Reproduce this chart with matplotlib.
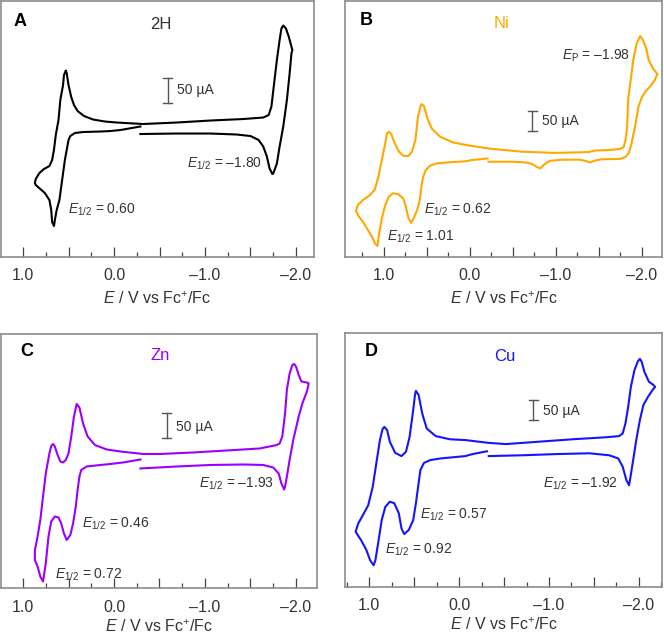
import matplotlib
matplotlib.use('Agg')
import matplotlib.pyplot as plt
from matplotlib.ticker import MultipleLocator, FuncFormatter

plt.rcParams['font.family'] = 'Liberation Sans'
plt.rcParams['mathtext.fontset'] = 'custom'
plt.rcParams['mathtext.rm'] = 'Liberation Sans'
plt.rcParams['mathtext.it'] = 'Liberation Sans:italic'
plt.rcParams['mathtext.bf'] = 'Liberation Sans:bold'

# potential (V vs Fc+/Fc) and current (uA, cathodic up)
# A: free base 2H
e_2h = [-0.29, -0.07, 0.04, 0.15, 0.34, 0.43, 0.48, 0.50, 0.52, 0.54, 0.57, 0.60, 0.63, 0.65, 0.66, 0.68, 0.69, 0.71, 0.76, 0.81, 0.86, 0.87,
        0.86, 0.82, 0.77, 0.71, 0.68, 0.66, 0.64, 0.61, 0.59, 0.56, 0.55, 0.53, 0.52, 0.50, 0.47, 0.44, 0.40, 0.33, 0.23, 0.10, -0.03,
        -0.32, -0.69, -1.06, -1.42, -1.64, -1.70, -1.73, -1.76, -1.79, -1.82, -1.84, -1.86, -1.89, -1.92, -1.95, -1.96,
        -1.95, -1.93, -1.90, -1.86, -1.82, -1.79, -1.75, -1.74, -1.71, -1.68, -1.64, -1.59, -1.50, -1.35, -1.06, -0.69, -0.29]
i_2h = [7, 0, -2, -3, -4, -6, -12, -20, -40, -60, -100, -140, -160, -180, -192, -184, -160, -140, -126, -118, -110, -106,
        -98, -86, -78, -72, -60, -40, -10, 20, 60, 90, 110, 119, 114, 90, 66, 50, 38, 28, 21, 17, 15,
        12, 15, 19, 22, 25, 30, 47, 94, 140, 180, 203, 209, 203, 187, 167, 160,
        153, 113, 60, 7, -33, -67, -87, -88, -77, -53, -33, -20, -12, -9, -7, -7, -8]

# B: Ni
e_ni = [-0.21, -0.02, 0.05, 0.27, 0.38, 0.46, 0.51, 0.54, 0.56, 0.58, 0.61, 0.65, 0.68, 0.71, 0.74, 0.77, 0.83, 0.89, 0.94, 0.98,
        1.02, 1.05, 1.07, 1.10, 1.13, 1.18, 1.24, 1.29, 1.32,
        1.30, 1.24, 1.16, 1.10, 1.06, 1.02, 0.98, 0.96, 0.94, 0.91, 0.87, 0.82, 0.77, 0.71, 0.67, 0.63, 0.60, 0.57, 0.56, 0.53,
        0.49, 0.44, 0.34, 0.19, 0.05, -0.22, -0.61, -0.99, -1.38, -1.46, -1.61, -1.75, -1.79, -1.81, -1.83, -1.84, -1.87, -1.90,
        -1.94, -1.98, -2.01, -2.05, -2.08, -2.13, -2.18,
        -2.15, -2.10, -2.04, -2.00, -1.96, -1.92, -1.88, -1.85, -1.81, -1.75, -1.53, -1.44, -1.40, -1.36, -1.28, -1.07, -0.93,
        -0.87, -0.82, -0.78, -0.73, -0.66, -0.49, -0.22]
i_ni = [4, 0, -3, -6, -8, -14, -25, -42, -67, -100, -125, -146, -157, -146, -117, -96, -85, -83, -92, -113,
        -146, -183, -215, -208, -193, -175, -154, -140, -127,
        -113, -100, -88, -73, -42, 0, 42, 67, 71, 65, 42, 21, 11, 10, 21, 50, 108, 135, 140, 135,
        104, 79, 58, 44, 38, 29, 21, 18, 20, 24, 25, 28, 33, 50, 83, 150, 200, 250,
        292, 310, 302, 279, 250, 229, 215,
        200, 185, 171, 157, 133, 83, 42, 18, 8, 3, 2, -2, -6, -3, 1, 1, -2,
        -10, -21, -17, -10, -6, -4, -4]

# C: Zn
e_zn = [-0.29, -0.10, 0.04, 0.15, 0.30, 0.36, 0.38, 0.40, 0.42, 0.45, 0.48, 0.52, 0.55, 0.58, 0.61, 0.65, 0.69, 0.72, 0.75, 0.78,
        0.81, 0.84, 0.87, 0.87,
        0.84, 0.81, 0.78, 0.75, 0.71, 0.69, 0.67, 0.65, 0.62, 0.59, 0.56, 0.53, 0.50, 0.47, 0.44, 0.41, 0.38, 0.34, 0.29, 0.21,
        0.08, -0.07, -0.32, -0.51, -0.87, -1.24, -1.60, -1.71, -1.79, -1.82, -1.85, -1.88, -1.90, -1.93, -1.96, -1.98, -2.00,
        -2.03, -2.06, -2.12, -2.14,
        -2.12, -2.07, -2.03, -1.97, -1.93, -1.90, -1.88, -1.87, -1.84, -1.81, -1.75, -1.64, -1.42, -1.06, -0.69, -0.29]
i_zn = [1, -5, -8, -10, -13, -20, -33, -60, -93, -127, -150, -160, -147, -127, -115, -113, -123, -153, -207, -243,
        -233, -213, -200, -181,
        -153, -120, -73, -27, 13, 28, 32, 27, 10, -3, -5, 0, 13, 47, 87, 112, 105, 73, 47, 30,
        21, 17, 12, 12, 15, 19, 23, 27, 30, 33, 47, 93, 140, 173, 190, 192, 187,
        170, 157, 155, 153,
        137, 113, 87, 40, 0, -33, -53, -59, -47, -27, -15, -10, -9, -10, -13, -17]

# D: Cu
e_cu = [-0.31, -0.15, -0.07, 0.21, 0.32, 0.39, 0.43, 0.45, 0.48, 0.51, 0.56, 0.61, 0.64, 0.67, 0.72, 0.77, 0.82, 0.86, 0.90, 0.93,
        0.95, 0.99, 1.03, 1.09, 1.14, 1.15,
        1.12, 1.07, 1.01, 0.96, 0.92, 0.88, 0.85, 0.83, 0.80, 0.77, 0.71, 0.64, 0.59, 0.55, 0.51, 0.49, 0.48, 0.45, 0.41, 0.36,
        0.26, 0.10, -0.07, -0.33, -0.52, -0.89, -1.26, -1.63, -1.78, -1.82, -1.85, -1.88, -1.91, -1.95, -1.99, -2.01, -2.03,
        -2.06, -2.11, -2.16, -2.18,
        -2.15, -2.10, -2.05, -2.01, -1.97, -1.93, -1.90, -1.89, -1.86, -1.82, -1.77, -1.67, -1.45, -1.08, -0.70, -0.33]
i_cu = [-3, -10, -15, -21, -25, -32, -50, -83, -133, -175, -200, -210, -196, -158, -133, -129, -142, -175, -233, -275,
        -288, -275, -250, -225, -208, -204,
        -183, -163, -138, -92, -33, 25, 53, 58, 50, 21, -7, -15, -4, 33, 100, 138, 148, 138, 92, 54,
        35, 27, 25, 18, 15, 21, 27, 32, 35, 42, 67, 108, 158, 200, 223, 228, 221,
        196, 171, 163, 158,
        150, 133, 113, 75, 25, -33, -75, -88, -75, -42, -21, -13, -8, -10, -13, -15]

half_wave = {
    'A': [('\u20131.80', -0.805, -68), ('0.60', 0.502, -160)],
    'B': [('0.62', 0.533, -125), ('1.01', 0.959, -192)],
    'C': [('\u20131.93', -0.937, -48), ('0.46', 0.355, -127), ('0.72', 0.648, -230)],
    'D': [('\u20131.92', -0.934, -85), ('0.57', 0.439, -163), ('0.92', 0.829, -250)],
}

panels = [
    dict(tag='A', name='2H', e=e_2h, i=i_2h, color='black', rect=[0.0015, 0.5946, 0.4714, 0.4038],
         xlim=(1.242, -2.198), ylim=(-254, 258), letter=(1.03, 217), title=(-0.511, 212),
         bar=(-0.59, 55, 105), bar_text=(-0.689, 80), lpad=5),
    dict(tag='B', name='Ni', e=e_ni, i=i_ni, color='#ffa800', rect=[0.5196, 0.5942, 0.4779, 0.4037],
         xlim=(1.447, -2.238), ylim=(-243, 397), letter=(1.195, 350), title=(-0.365, 341),
         bar=(-0.728, 74, 124), bar_text=(-0.844, 99), lpad=5),
    dict(tag='C', name='Zn', e=e_zn, i=i_zn, color='#9b00ff', rect=[0.0015, 0.0718, 0.4759, 0.4014],
         xlim=(1.242, -2.231), ylim=(-257, 252), letter=(0.959, 217), title=(-0.505, 208),
         bar=(-0.577, 44, 94), bar_text=(-0.681, 66), lpad=2.5),
    dict(tag='D', name='Cu', e=e_cu, i=i_cu, color='#1414ff', rect=[0.5196, 0.0737, 0.4779, 0.4006],
         xlim=(1.268, -2.26), ylim=(-343, 292), letter=(0.981, 246), title=(-0.507, 235),
         bar=(-0.823, 75, 125), bar_text=(-0.934, 97), lpad=2.5),
]


def volt_fmt(v, pos):
    if abs(v - round(v)) > 1e-6:
        return ''
    s = '%.1f' % abs(v)
    return '\u2013' + s if v < -0.01 else s


txt = '#333333'
fig = plt.figure(figsize=(6.64, 6.34), dpi=100)

for p in panels:
    ax = fig.add_axes(p['rect'])
    ax.plot(p['e'], p['i'], color=p['color'], lw=1.5, solid_joinstyle='round')
    ax.set_xlim(*p['xlim'])
    ax.set_ylim(*p['ylim'])
    ax.set_yticks([])
    ax.xaxis.set_major_locator(MultipleLocator(0.5))
    ax.xaxis.set_minor_locator(MultipleLocator(0.25))
    ax.xaxis.set_major_formatter(FuncFormatter(volt_fmt))
    ax.tick_params(axis='x', which='major', direction='in', length=7, width=0.9,
                   color='#444444', labelcolor=txt, labelsize=11.5, pad=8)
    ax.tick_params(axis='x', which='minor', direction='in', length=3.5, width=0.9, color='#444444')
    for sp in ax.spines.values():
        sp.set_color('#8c8c8c')
        sp.set_linewidth(1.2)
    ax.set_xlabel(r'$E$ / V vs Fc$^{+}$/Fc', fontsize=11.5, color=txt, labelpad=p['lpad'])

    ax.text(*p['letter'], p['tag'], fontsize=13, fontweight='bold', ha='center', va='center')
    ax.text(*p['title'], p['name'], fontsize=12, color=txt if p['tag'] == 'A' else p['color'],
            ha='center', va='center')

    # 50 uA scale bar
    bx, b0, b1 = p['bar']
    cap = 0.05
    ax.plot([bx, bx], [b0, b1], color='#555555', lw=1)
    ax.plot([bx - cap, bx + cap], [b0, b0], color='#555555', lw=1)
    ax.plot([bx - cap, bx + cap], [b1, b1], color='#555555', lw=1)
    ax.text(*p['bar_text'], '50 \u00b5A', fontsize=10, color=txt, ha='left', va='center')

    for val, ex, iy in half_wave[p['tag']]:
        ax.text(ex, iy, r'$E_{1/2}$' + ' = ' + val, fontsize=10, color=txt, ha='left', va='center')
    if p['tag'] == 'B':
        ax.text(-1.07, 262, r'$E_\mathrm{P}$' + ' = \u20131.98', fontsize=10, color=txt, ha='left', va='center')

fig.savefig('out.png', dpi=100)
